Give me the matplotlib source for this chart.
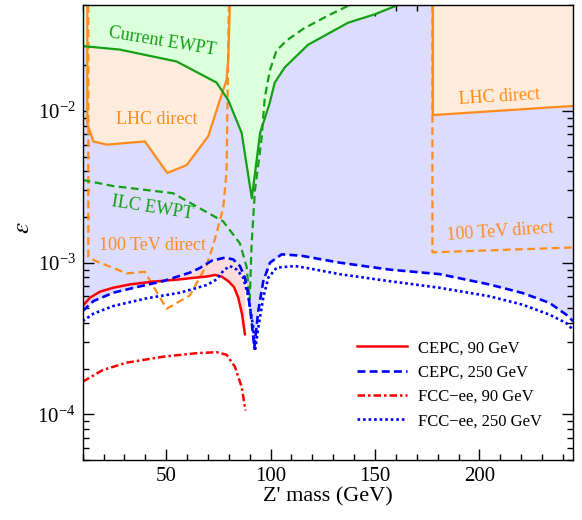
import numpy as np
import matplotlib
matplotlib.use("Agg")
import matplotlib.pyplot as plt
from matplotlib.ticker import LogLocator, MultipleLocator, NullFormatter

plt.rcParams['font.family'] = ['Liberation Serif', 'DejaVu Serif']
plt.rcParams['mathtext.fontset'] = 'stix'

# ---- data (Z' mass in GeV, epsilon) ----
# current EWPT limit (solid green)
ewpt_m = [10, 11.1, 27.8, 55.0, 74.1, 79.7, 86.1, 91.0, 95.0, 99.5, 102.0,
          106.8, 117.9, 137.1, 149.9, 161.0]
ewpt_eps = [0.027, 0.0267, 0.0254, 0.0212, 0.0154, 0.0118, 0.0072, 0.00266,
            0.0072, 0.0112, 0.0154, 0.0194, 0.0273, 0.0382, 0.0434, 0.05]

# ILC EWPT (dashed green)
ilc_m = [10, 24.6, 53.3, 77.3, 85.3, 88.5, 89.3, 90.0, 90.9, 92.5, 95.6, 97.2,
         99.6, 102.8, 107.6, 115.6, 126.7, 137.9]
ilc_eps = [0.00351, 0.0032, 0.00287, 0.00187, 0.00134, 0.00094, 0.00072,
           0.00057, 0.00132, 0.0030, 0.0064, 0.0122, 0.0184, 0.025, 0.0291,
           0.0348, 0.042, 0.05]

# LHC direct, low mass region (solid orange, closed along top)
lhc_m = [12.2, 12.2, 15.1, 21.5, 39.8, 50.5, 59.8, 70.1, 75.7, 78.9, 79.7, 80.5]
lhc_eps = [0.05, 0.0083, 0.0063, 0.006, 0.0063, 0.0039, 0.0044, 0.0068,
           0.0118, 0.016, 0.0217, 0.05]

# LHC direct, high mass region
lhc_hi_m = [177.7, 177.7, 245]
lhc_hi_eps = [0.05, 0.0094, 0.0108]

# 100 TeV direct (dashed orange)
tev_m = [12.7, 12.7, 15.9, 31.1, 39.8, 50.2, 61.3, 69.3, 72.5, 77.3, 78.9, 80.0]
tev_eps = [0.05, 0.00109, 0.00103, 0.00085, 0.00087, 0.000496, 0.000608,
           0.00096, 0.0013, 0.00229, 0.004, 0.05]
tev_hi_m = [177.5, 177.5, 245]
tev_hi_eps = [0.05, 0.00117, 0.00126]

# CEPC 90 GeV (solid red)
cepc90_m = [10, 13.5, 18.3, 24.7, 32.7, 43.8, 56.6, 63.8, 69.4, 73.4, 76.5,
            79.7, 82.5, 84.5, 86.3, 87.7]
cepc90_eps = [5.18e-4, 5.88e-4, 6.44e-4, 6.84e-4, 7.19e-4, 7.5e-4, 7.76e-4,
              7.96e-4, 8.1e-4, 8.3e-4, 8.1e-4, 7.56e-4, 6.9e-4, 5.88e-4,
              4.6e-4, 3.37e-4]

# CEPC 250 GeV (dashed blue)
cepc250_m = [10, 15.1, 24.7, 35.9, 48.6, 61.4, 66.0, 71.8, 78.2, 82.1, 85.3,
             87.7, 89.3, 90.9, 92.2, 94.1, 96.5, 99.7, 105.3, 114.9, 133.1,
             157, 181, 204.9, 220.8, 233.6, 241.6, 245]
cepc250_eps = [4.8e-4, 5.58e-4, 6.34e-4, 6.9e-4, 7.56e-4, 8.6e-4, 9.2e-4,
               1.03e-3, 1.08e-3, 1.05e-3, 9.5e-4, 7.96e-4, 6.18e-4, 4.12e-4,
               2.75e-4, 4.8e-4, 7.56e-4, 1.0e-3, 1.135e-3, 1.11e-3, 1.0e-3,
               9.0e-4, 8.4e-4, 7.18e-4, 6.3e-4, 5.43e-4, 4.54e-4, 4.1e-4]

# FCC-ee 90 GeV (dash-dot red)
fcc90_m = [10, 19.6, 31, 48.6, 64.5, 74.1, 78.9, 82.9, 86.1, 88]
fcc90_eps = [1.64e-4, 1.96e-4, 2.19e-4, 2.40e-4, 2.53e-4, 2.57e-4, 2.47e-4,
             2.06e-4, 1.52e-4, 1.06e-4]

# FCC-ee 250 GeV (dotted blue)
fcc250_m = [10, 15.1, 24.7, 40.6, 56.6, 69.4, 74.2, 77.5, 80.5, 83.8, 86.9,
            89.3, 91.7, 92.5, 94.1, 96.5, 98.9, 102.9, 111.7, 116.5, 133.1,
            157, 181, 204.9, 220.8, 233.6, 241.6, 245]
fcc250_eps = [4.12e-4, 4.61e-4, 5.18e-4, 5.82e-4, 6.34e-4, 7.12e-4, 7.76e-4,
              8.9e-4, 9.5e-4, 9.0e-4, 7.96e-4, 6.0e-4, 3.73e-4, 2.61e-4,
              3.73e-4, 5.88e-4, 7.96e-4, 9.27e-4, 9.5e-4, 9.27e-4, 8.4e-4,
              7.55e-4, 6.83e-4, 6.0e-4, 5.28e-4, 4.54e-4, 4.0e-4, 3.6e-4]

YMIN, YMAX = 5e-5, 5e-2

GREEN = '#14a014'
ORANGE = '#ff8c1a'

fig = plt.figure(figsize=(5.82, 5.20), dpi=100)
ax = fig.add_axes([0.1421, 0.1154, 0.8430, 0.8750])
ax.set_yscale('log')

# shaded regions
ax.fill_between(cepc250_m, cepc250_eps, YMAX, color='#dcdcff', lw=0, zorder=1)
red = np.array(cepc90_eps)
blue_at_red = np.interp(cepc90_m, cepc250_m, cepc250_eps)
ax.fill_between(cepc90_m, red, blue_at_red, where=red <= blue_at_red,
                interpolate=True, color='#ffdcdc', lw=0, zorder=1.5)
ax.fill(lhc_m, lhc_eps, color='#ffecdc', lw=0, zorder=2)
ax.fill_between(lhc_hi_m[1:], lhc_hi_eps[1:], YMAX, color='#ffecdc', lw=0, zorder=2)
ax.fill_between(ewpt_m, ewpt_eps, YMAX, color='#dcffdc', lw=0, zorder=3)

# boundaries
ax.plot(lhc_m, lhc_eps, color=ORANGE, lw=1.6, zorder=4)
ax.plot(lhc_hi_m, lhc_hi_eps, color=ORANGE, lw=1.6, zorder=4)
ax.plot(tev_m, tev_eps, color=ORANGE, lw=1.6, ls=(0, (3.5, 2)), zorder=4)
ax.plot(tev_hi_m, tev_hi_eps, color=ORANGE, lw=1.6, ls=(0, (3.5, 2)), zorder=4)
ax.plot(ewpt_m, ewpt_eps, color=GREEN, lw=1.6, zorder=5)
ax.plot(ilc_m, ilc_eps, color=GREEN, lw=1.6, ls=(0, (3.5, 2)), zorder=5)

ax.plot(cepc90_m, cepc90_eps, color='red', lw=1.8, zorder=6, label='CEPC, 90 GeV')
ax.plot(cepc250_m, cepc250_eps, color='blue', lw=1.9, ls=(0, (3, 1.6)), zorder=6,
        label='CEPC, 250 GeV')
ax.plot(fcc90_m, fcc90_eps, color='red', lw=1.8, ls=(0, (3, 1.2, 1, 1.2)), zorder=6,
        label=u'FCC\u2212ee, 90 GeV')
ax.plot(fcc250_m, fcc250_eps, color='blue', lw=1.9, ls=(0, (1, 1.1)), zorder=6,
        label=u'FCC\u2212ee, 250 GeV')

# region labels
ax.text(48.0, 0.0287, 'Current EWPT', color=GREEN, fontsize=13, rotation=-9.5,
        ha='center', va='center', zorder=8)
ax.text(45.4, 0.0088, 'LHC direct', color=ORANGE, fontsize=13,
        ha='center', va='center', zorder=8)
ax.text(43.4, 0.0023, 'ILC EWPT', color=GREEN, fontsize=13, rotation=-9,
        ha='center', va='center', zorder=8)
ax.text(43.4, 0.00129, '100 TeV direct', color=ORANGE, fontsize=13,
        ha='center', va='center', zorder=8)
ax.text(209.4, 0.0124, 'LHC direct', color=ORANGE, fontsize=13, rotation=3.5,
        ha='center', va='center', zorder=8)
ax.text(209.9, 0.0016, '100 TeV direct', color=ORANGE, fontsize=13, rotation=4,
        ha='center', va='center', zorder=8)

ax.set_xlim(10, 245)
ax.set_ylim(YMIN, YMAX)
ax.xaxis.set_major_locator(MultipleLocator(50))
ax.xaxis.set_minor_locator(MultipleLocator(10))
ax.yaxis.set_major_locator(LogLocator(base=10))
ax.yaxis.set_minor_locator(LogLocator(base=10, subs=np.arange(2, 10)))
ax.yaxis.set_minor_formatter(NullFormatter())
ax.tick_params(which='both', direction='in', top=True, right=True, width=1)
ax.tick_params(which='major', length=8, labelsize=15, pad=5)
ax.tick_params(which='minor', length=4.5)
for s in ax.spines.values():
    s.set_linewidth(1)
    s.set_zorder(10)

ax.set_xlabel("Z' mass (GeV)", fontsize=16, labelpad=1)
ax.set_ylabel(r'$\epsilon$', fontsize=18)
ax.yaxis.set_label_coords(-0.10, 0.51)

ax.legend(loc='center left', bbox_to_anchor=(0.5585, 0.1655), frameon=False,
          fontsize=12, handlelength=3.0, handletextpad=0.7, labelspacing=0.5,
          borderpad=0, borderaxespad=0)

fig.savefig('out.png', dpi=100)
